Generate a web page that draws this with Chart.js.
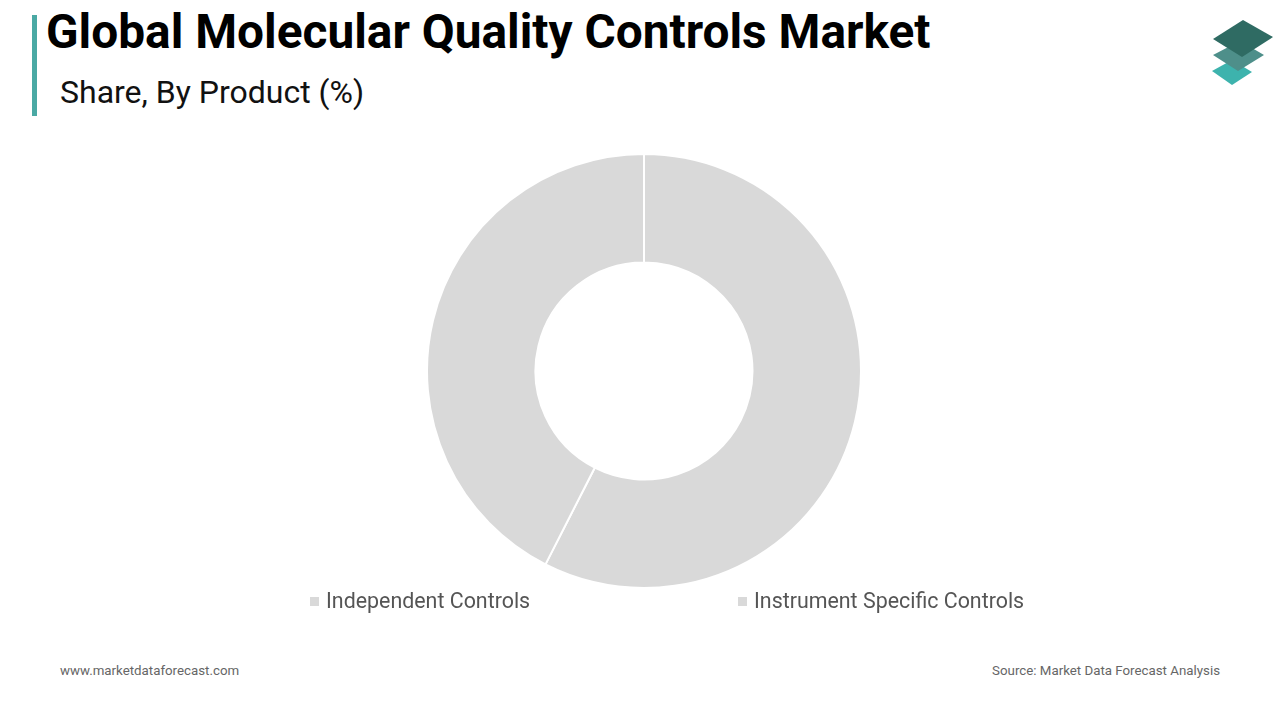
<!DOCTYPE html>
<html>
<head>
<meta charset="utf-8">
<script src="https://cdn.jsdelivr.net/npm/chart.js@4.4.1/dist/chart.umd.min.js"></script>
<style>
    body { margin: 0; width: 1280px; height: 720px; background: #fff; font-family: Roboto, sans-serif; position: relative; overflow: hidden; }
    #bar { position: absolute; left: 32px; top: 15px; width: 5px; height: 101px; background: #4aa9a4; }
    #title { position: absolute; left: 46px; top: 4px; font-size: 47.8px; font-weight: bold; color: #000; }
    #subtitle { position: absolute; left: 60px; top: 73px; font-size: 32px; color: #111; }
    #wrap { position: absolute; left: 426px; top: 153px; width: 436px; height: 436px; }
    #legend { position: absolute; top: 588px; left: 0; width: 1280px; font-size: 21.4px; color: #555; }
    .item { position: absolute; white-space: nowrap; }
    .box { display: inline-block; width: 9px; height: 9px; margin-right: 7px; vertical-align: 2px; }
    .foot { position: absolute; top: 663px; font-size: 13.3px; color: #666; }
</style>
</head>
<body>
<div id="bar"></div>
<div id="title">Global Molecular Quality Controls Market</div>
<div id="subtitle">Share, By Product (%)</div>
<svg style="position:absolute;left:1205px;top:15px" width="75" height="75" viewBox="1205 15 75 75">
    <polygon points="1212,71 1232,60 1252,72 1232,85" fill="#3db3ad"/>
    <polygon points="1213,55 1240,41 1264,55 1238,71" fill="#4e8f8a"/>
    <polygon points="1213,39 1243,20 1273,37 1242,57" fill="#2f6b63"/>
</svg>
<div id="wrap"><canvas id="c" width="436" height="436"></canvas></div>
<div id="legend"></div>
<div class="foot" style="left:60px">www.marketdataforecast.com</div>
<div class="foot" style="right:60px">Source: Market Data Forecast Analysis</div>
<script>
const labels = ['Independent Controls', 'Instrument Specific Controls'];
const shares = [57.5, 42.5];
const colors = ['#d9d9d9', '#d9d9d9'];
const legendX = [310, 738];

const chart = new Chart(document.getElementById('c'), {
    type: 'doughnut',
    data: {
        labels,
        datasets: [{
            data: shares,
            backgroundColor: colors,
            borderColor: '#fff',
            borderWidth: 2,
            hoverOffset: 0
        }]
    },
    options: {
        responsive: false,
        animation: false,
        cutout: '50%',
        plugins: { legend: { display: false }, tooltip: { enabled: false } }
    }
});

// html legend from chart data
const leg = document.getElementById('legend');
chart.data.labels.forEach((l, i) => {
    const d = document.createElement('div');
    d.className = 'item';
    d.style.left = legendX[i] + 'px';
    d.innerHTML = '<span class="box" style="background:' + colors[i] + '"></span>' + l;
    leg.appendChild(d);
});
</script>
</body>
</html>
